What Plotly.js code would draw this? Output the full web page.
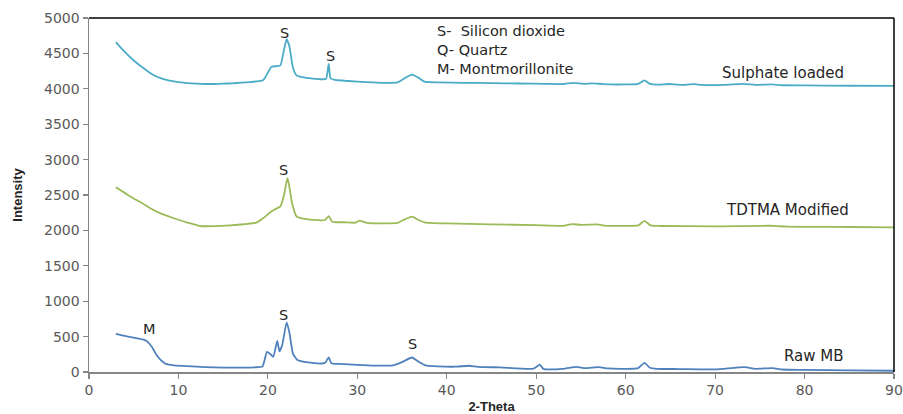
<!DOCTYPE html>
<html>
<head>
<meta charset="utf-8">
<script src="https://cdn.plot.ly/plotly-3.0.1.min.js"></script>
<style>html,body{margin:0;padding:0;background:#fff;}#chart{width:903px;height:414px;}</style>
</head>
<body>
<div id="chart"></div>
<script>
// Sulphate loaded (top trace)
const sulphateX = [3,3.5,4,5,6,7,8,9,10,11,12,13,14,15,16,17,18,19,19.5,20,20.4,21,21.4,21.8,22.1,22.4,22.8,23.2,24,25,26,26.5,26.8,27.0,27.5,29,31,33,34.5,35.3,36.1,36.8,37.5,39,42,45,48,51,53,54.2,55.3,56.3,57.5,60,61.4,62.1,62.7,63.5,64.9,66,67.7,68.5,71,73.2,74.5,76.3,77.5,80,85,90];
const sulphateY = [4660,4590,4520,4400,4300,4210,4150,4115,4095,4080,4072,4068,4068,4072,4078,4086,4095,4108,4125,4230,4310,4320,4330,4550,4700,4600,4300,4190,4160,4145,4135,4140,4350,4150,4125,4110,4095,4085,4090,4150,4200,4160,4100,4090,4085,4080,4075,4070,4068,4085,4070,4078,4065,4062,4070,4120,4070,4058,4068,4055,4065,4055,4055,4070,4055,4062,4050,4048,4043,4040];

// TDTMA Modified (middle trace)
const tdtmaX = [3,4,4.9,6,6.8,8,9.4,11,12.4,14,15.8,17.5,18.7,19.5,20.3,20.8,21.4,21.8,22.2,22.7,23.2,24.7,26.4,26.8,27.2,28.5,29.8,30.2,31.1,33,34.5,35.2,36.1,36.8,37.5,40,45,50,53,54,55,56.8,57.8,60,61.4,62.1,62.8,64,70,76.5,78,85,90];
const tdtmaY = [2609,2530,2458,2380,2316,2240,2175,2110,2062,2060,2071,2090,2109,2175,2260,2298,2340,2500,2740,2387,2198,2151,2147,2203,2123,2115,2109,2137,2105,2098,2105,2150,2195,2150,2115,2098,2085,2075,2065,2090,2078,2085,2065,2065,2070,2135,2070,2062,2058,2065,2052,2048,2044];

// Raw MB (bottom trace)
const rawX = [3,4,5,6,6.4,7,7.5,8,8.6,9.5,11,13,15,17,18.5,19.4,19.9,20.3,20.6,21.05,21.3,21.6,22.1,22.4,22.8,23.3,24.5,26,26.4,26.8,27.1,28,30,32,34,35,36.1,36.8,37.6,39,41,42.5,43.5,46,49.7,50.4,50.8,53,54.5,55.5,57,58,60,61.4,62.1,62.7,63.5,66,70,73.3,74.5,76.4,77.5,80,85,90];
const rawY = [540,510,485,460,440,360,250,170,115,95,82,70,63,62,66,80,285,250,215,440,290,380,700,560,260,170,135,120,130,205,125,115,100,90,95,140,205,150,95,80,75,88,72,65,47,103,45,45,72,55,68,50,45,55,130,60,45,42,38,68,45,55,35,30,22,18];

const xTicks = [0,10,20,30,40,50,60,70,80,90];
const yTicks = [0,500,1000,1500,2000,2500,3000,3500,4000,4500,5000];

// Text labels on the chart
const peakLabels = [
  {x: 21.9, y: 4792, text: 'S'},
  {x: 27.0, y: 4468, text: 'S'},
  {x: 21.8, y: 2857, text: 'S'},
  {x: 6.8, y: 607, text: 'M'},
  {x: 21.8, y: 809, text: 'S'},
  {x: 36.2, y: 400, text: 'S'}
];
const keyLines = ['S-  Silicon dioxide', 'Q- Quartz', 'M- Montmorillonite'];
const seriesNames = ['Sulphate loaded', 'TDTMA Modified', 'Raw MB'];
const seriesLabelPos = [{x: 70.6, y: 4223}, {x: 71.0, y: 2283}, {x: 77.5, y: 230}];

const textFont = {family: 'DejaVu Sans, sans-serif', size: 14.5, color: '#262626'};
const nameFont = {family: 'DejaVu Sans, sans-serif', size: 15, color: '#262626'};

const lineStyle = c => ({color: c, width: 1.8, shape: 'spline', smoothing: 0.5});
const traces = [
  {x: sulphateX, y: sulphateY, type: 'scatter', mode: 'lines', name: seriesNames[0], line: lineStyle('#4BACC6')},
  {x: tdtmaX, y: tdtmaY, type: 'scatter', mode: 'lines', name: seriesNames[1], line: lineStyle('#9BBB59')},
  {x: rawX, y: rawY, type: 'scatter', mode: 'lines', name: seriesNames[2], line: lineStyle('#4F81BD')}
];

const annotations = [];
peakLabels.forEach(p => annotations.push({x: p.x, y: p.y, xref: 'x', yref: 'y', text: p.text, showarrow: false, xanchor: 'center', yanchor: 'middle', font: textFont}));
annotations.push({x: 38.7, y: 4548, xref: 'x', yref: 'y', text: keyLines.join('<br>'), align: 'left', showarrow: false, xanchor: 'left', yanchor: 'middle', font: textFont});
seriesNames.forEach((t, i) => annotations.push({x: seriesLabelPos[i].x, y: seriesLabelPos[i].y, xref: 'x', yref: 'y', text: t, showarrow: false, xanchor: 'left', yanchor: 'middle', font: nameFont}));

const tickFont = {family: 'DejaVu Sans, sans-serif', size: 14, color: '#595959'};
const axisTitleFont = {family: 'Liberation Sans Narrow, Liberation Sans, sans-serif', size: 13, color: '#262626'};
const layout = {
  width: 903, height: 414,
  margin: {l: 89, r: 9, t: 18, b: 42},
  paper_bgcolor: '#fff', plot_bgcolor: '#fff',
  showlegend: false,
  xaxis: {
    range: [0, 90], tickvals: xTicks, ticktext: xTicks.map(String),
    showgrid: false, zeroline: false, showline: true, linecolor: '#868686', linewidth: 1.5,
    ticks: 'outside', ticklen: 5, tickcolor: '#868686', tickwidth: 1.2,
    tickfont: tickFont,
    title: {text: '<b>2-Theta</b>', font: axisTitleFont, standoff: 6}
  },
  yaxis: {
    range: [0, 5000], tickvals: yTicks, ticktext: yTicks.map(String),
    showgrid: false, zeroline: false, showline: true, linecolor: '#868686', linewidth: 1.5,
    ticks: 'outside', ticklen: 5, tickcolor: '#868686', tickwidth: 1.2,
    tickfont: tickFont,
    title: {text: '<b>Intensity</b>', font: axisTitleFont, standoff: 18}
  },
  shapes: [
    {type: 'line', xref: 'paper', yref: 'paper', x0: 0, x1: 1, y0: 1, y1: 1, line: {color: '#000', width: 1.5}},
    {type: 'line', xref: 'paper', yref: 'paper', x0: 1, x1: 1, y0: 0, y1: 1, line: {color: '#000', width: 1.5}}
  ],
  annotations: annotations
};

Plotly.newPlot('chart', traces, layout, {displayModeBar: false, staticPlot: true});
</script>
</body>
</html>
